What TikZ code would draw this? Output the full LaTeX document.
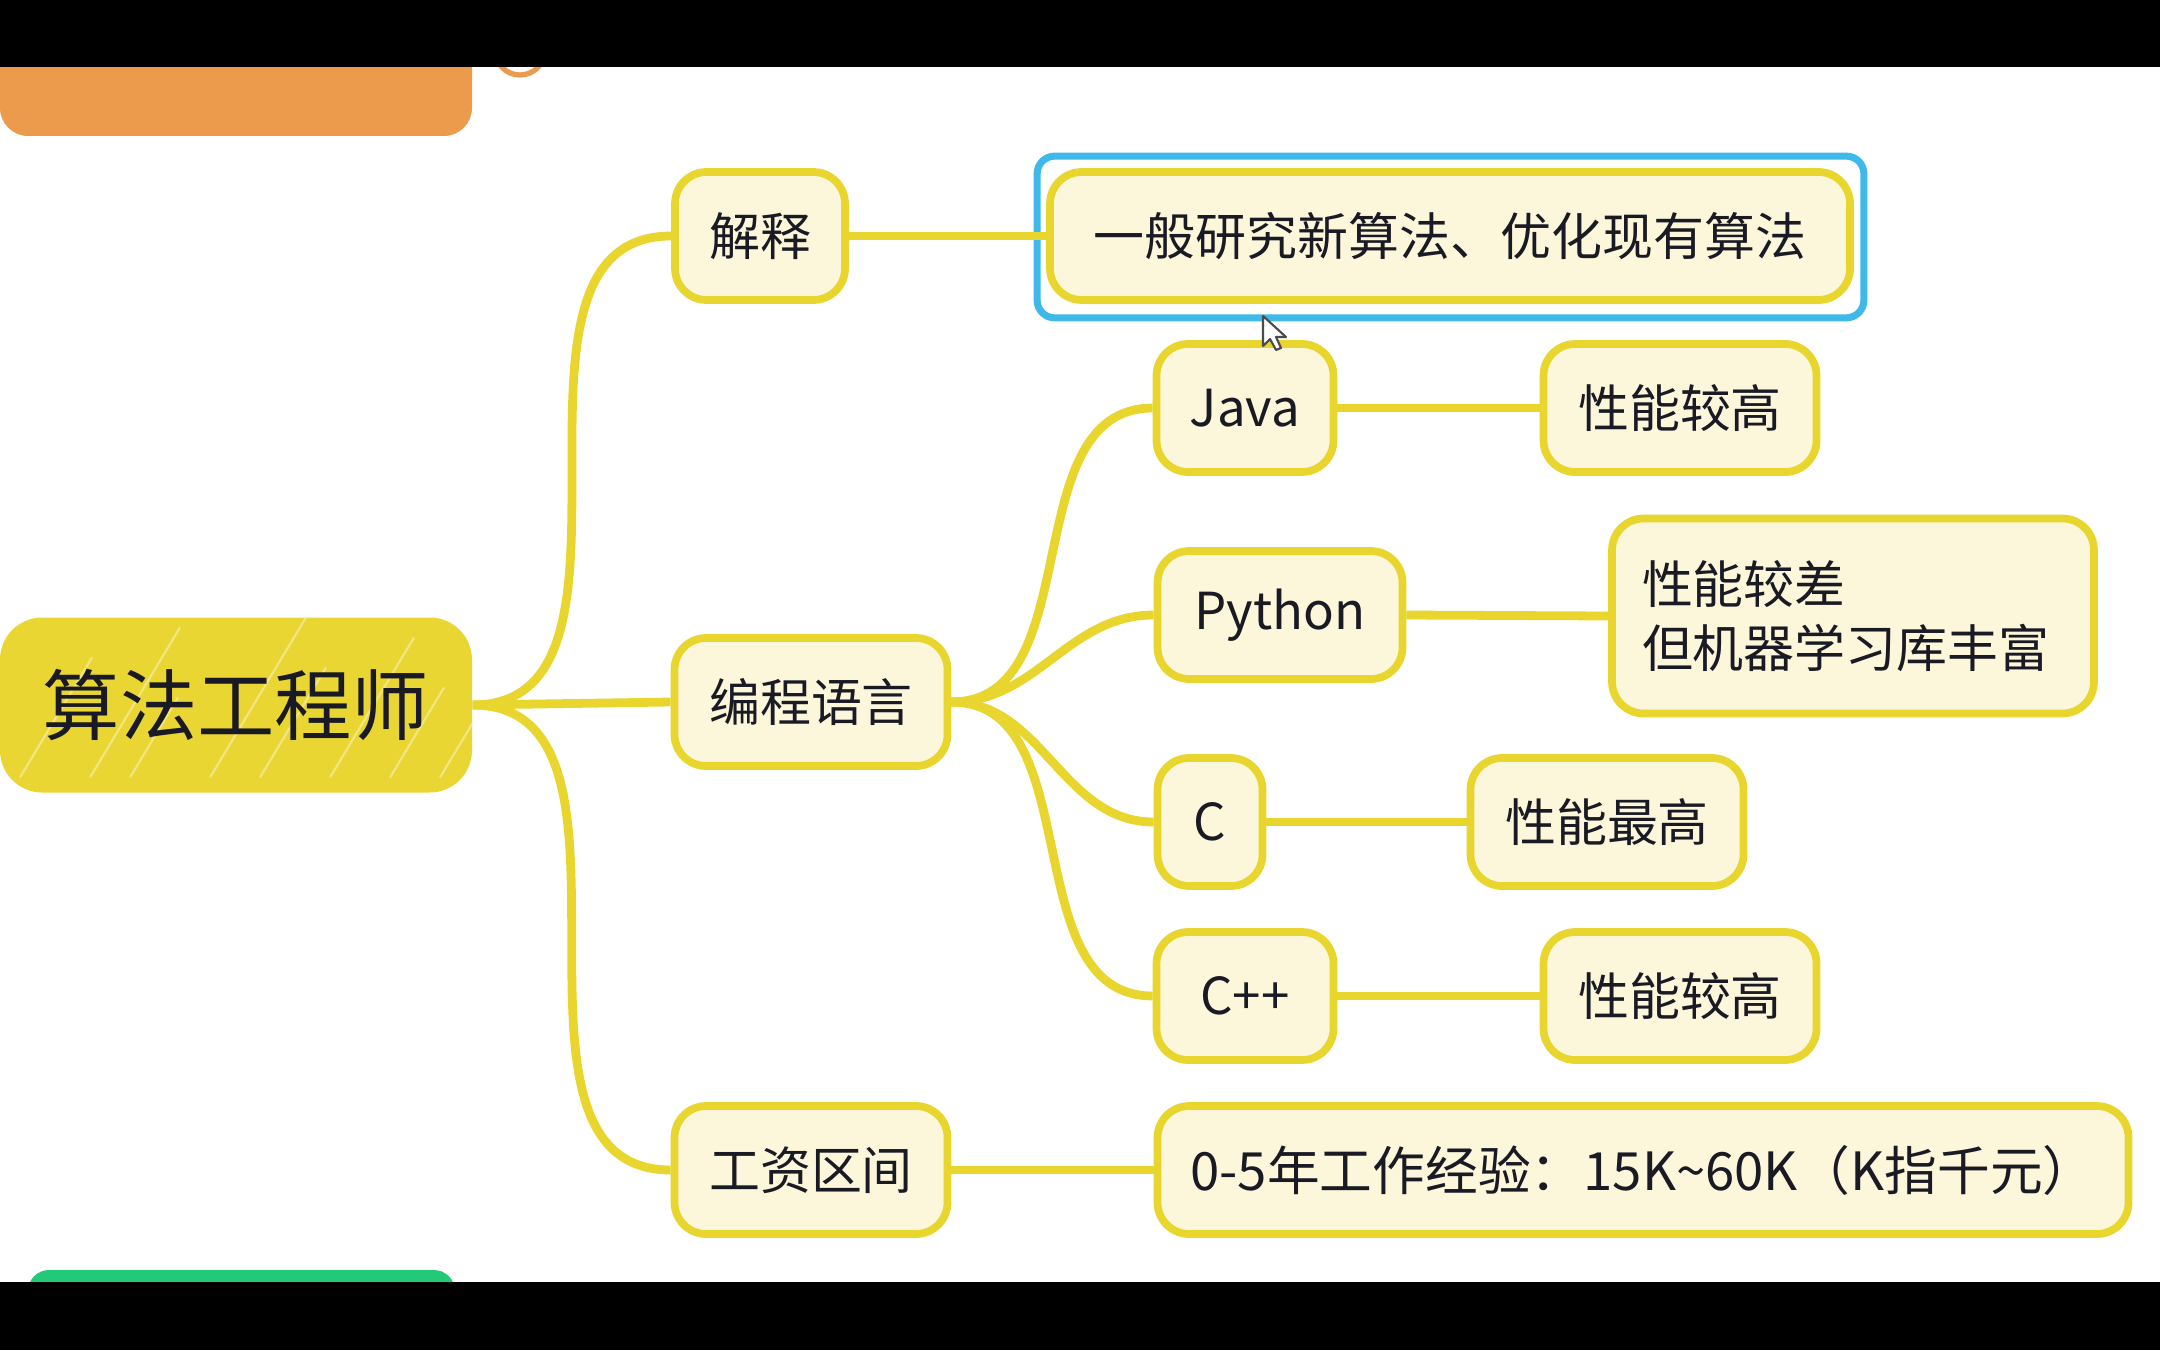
\documentclass[tikz,border=0pt]{standalone}
\usepackage{fontspec}
\setmainfont{Noto Sans CJK SC}
\usetikzlibrary{positioning}

\definecolor{mapyellow}{HTML}{E8D62E}
\definecolor{rootyellow}{HTML}{EAD633}
\definecolor{cream}{HTML}{FCF6DA}
\definecolor{selblue}{HTML}{3EB9EA}
\definecolor{tagorange}{HTML}{EC9A4C}
\definecolor{tabgreen}{HTML}{24C978}
\definecolor{ink}{HTML}{1A1A24}

\tikzset{
  topic/.style={draw=mapyellow, fill=cream, line width=2.2pt, rounded corners=9pt,
    inner sep=0pt, minimum height=1.28cm, text=ink,
    font=\fontsize{14.5pt}{18pt}\selectfont},
  branch/.style={draw=mapyellow, line width=2.5pt},
}

\begin{document}
\begin{tikzpicture}
	\useasboundingbox (0,0) rectangle (21.6,13.5);
	\fill[white] (0,0) rectangle (21.6,13.5);
	% bits of the neighbouring maps
	\fill[tagorange, rounded corners=8pt] (0,12.14) rectangle (4.72,13.2);
	\draw[tagorange, line width=1.5pt] (5.2,13.0) circle (0.25);
	\fill[tabgreen, rounded corners=6pt] (0.28,0.3) rectangle (4.55,0.8);
	% root
	\node[fill=rootyellow, rounded corners=12pt, minimum width=4.72cm, minimum height=1.75cm,
		text=ink, font=\fontsize{22pt}{26pt}\selectfont,
		path picture={\foreach \x/\l in {0.2/1.2,0.9/1.5,1.3/0.8,2.1/1.6,2.6/1.1,3.3/1.4,3.9/0.9,4.4/1.2}
			\draw[white, line width=0.6pt, opacity=.4]
			([shift={(\x cm,0.15cm)}]path picture bounding box.south west) -- ++(0.6*\l,\l);}]
		(root) at (2.36,6.45) {算法工程师};
	% first level
	\node[topic, minimum width=1.70cm] (jieshi) at (7.60,11.14) {解释};
	\node[topic, minimum width=2.73cm] (lang) at (8.11,6.48) {编程语言};
	\node[topic, minimum width=2.73cm] (salary) at (8.11,1.80) {工资区间};
	% second level
	\node[topic, minimum width=8.00cm] (define) at (14.50,11.14) {一般研究新算法、优化现有算法};
	\node[topic, minimum width=1.77cm] (java) at (12.45,9.42) {Java};
	\node[topic, minimum width=2.45cm] (python) at (12.80,7.35) {Python};
	\node[topic, minimum width=1.05cm] (c) at (12.10,5.28) {C};
	\node[topic, minimum width=1.77cm] (cpp) at (12.45,3.54) {C++};
	\node[topic, minimum width=9.71cm, font=\fontsize{15pt}{18pt}\selectfont] (range) at (16.43,1.80)
		{0-5年工作经验：15K\textasciitilde60K（K指千元）};
	% notes
	\node[topic, minimum width=2.73cm] (javanote) at (16.80,9.42) {性能较高};
	\node[topic, minimum width=4.82cm, minimum height=1.95cm, align=left, text width=4.22cm,
		font=\fontsize{14.5pt}{18.4pt}\selectfont] (pynote) at (18.53,7.34) {性能较差\\但机器学习库丰富};
	\node[topic, minimum width=2.73cm] (cnote) at (16.07,5.28) {性能最高};
	\node[topic, minimum width=2.73cm] (cppnote) at (16.80,3.54) {性能较高};
	% selection frame
	\draw[selblue, line width=2pt, rounded corners=5pt]
		([shift={(-0.09,-0.14)}]define.south west) rectangle ([shift={(0.10,0.12)}]define.north east);
	% branches
	\draw[branch] (root.east) to[out=0,in=180] (jieshi.west);
	\draw[branch] (root.east) -- (lang.west);
	\draw[branch] (root.east) to[out=0,in=180] (salary.west);
	\draw[branch] (jieshi.east) -- (define.west);
	\draw[branch] (lang.east) to[out=0,in=180] (java.west);
	\draw[branch] (lang.east) to[out=0,in=180] (python.west);
	\draw[branch] (lang.east) to[out=0,in=180] (c.west);
	\draw[branch] (lang.east) to[out=0,in=180] (cpp.west);
	\draw[branch] (java.east) -- (javanote.west);
	\draw[branch] (python.east) -- (pynote.west);
	\draw[branch] (c.east) -- (cnote.west);
	\draw[branch] (cpp.east) -- (cppnote.west);
	\draw[branch] (salary.east) -- (range.west);
	% mouse pointer
	\draw[fill=white, draw=black!70, line width=0.6pt, line join=round]
		(12.63,10.34) -- ++(0,-0.30) -- ++(0.07,0.07) -- ++(0.06,-0.11) -- ++(0.05,0.02)
		-- ++(-0.05,0.11) -- ++(0.10,0) -- cycle;
	% screen bars
	\fill[black] (0,12.83) rectangle (21.6,13.5);
	\fill[black] (0,0) rectangle (21.6,0.68);
\end{tikzpicture}
\end{document}
